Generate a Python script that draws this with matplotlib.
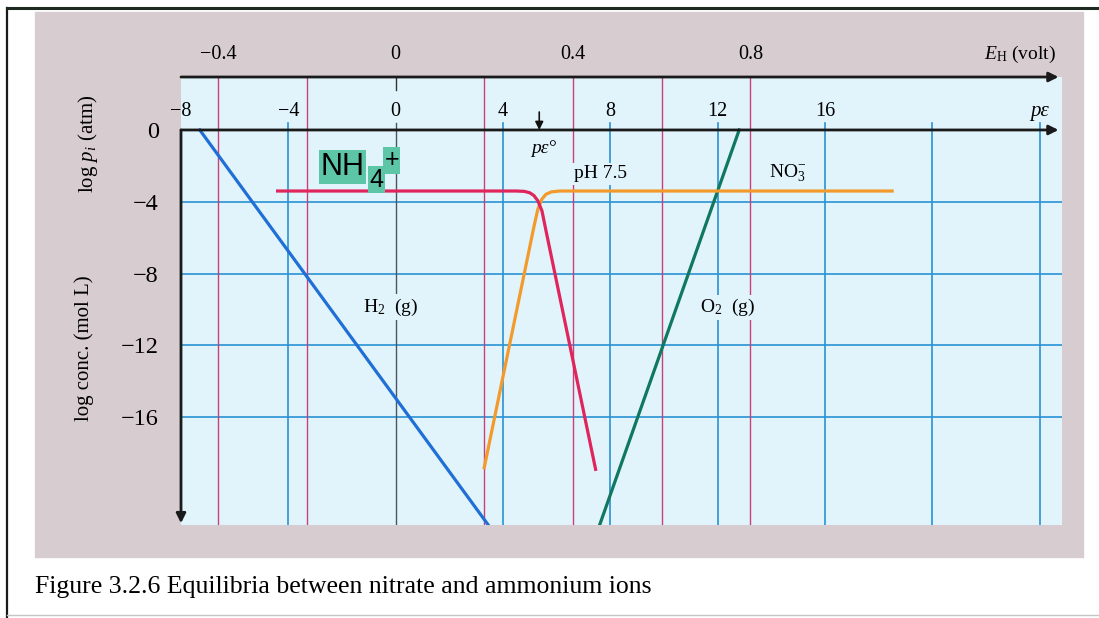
import numpy as np
import matplotlib.pyplot as plt
from matplotlib.patches import Rectangle
from matplotlib.lines import Line2D

plt.rcParams['font.family'] = 'Liberation Serif'
plt.rcParams['mathtext.fontset'] = 'custom'
plt.rcParams['mathtext.rm'] = 'Liberation Serif'
plt.rcParams['mathtext.it'] = 'Liberation Serif:italic'

# values (pe units, log units)
pe_ticks = [-8, -4, 0, 4, 8, 12, 16]
pe_grid = [-4, 4, 8, 12, 16, 20, 24]
eh_ticks = [-0.4, 0, 0.4, 0.8]
eh_grid = [-0.4, -0.2, 0.2, 0.4, 0.6, 0.8]
log_ticks = [0, -4, -8, -12, -16]
log_grid = [-4, -8, -12, -16]
volt_per_pe = 1 / 16.52

h2_pe = [-7.3, 3.45]
h2_log = [0, -22]
o2_pe = [7.6, 12.8]
o2_log = [-22, 0]
nh4_pe = [-4.4, 4.5, 4.8, 5.0, 5.15, 5.3, 5.45, 5.6, 7.45]
nh4_log = [-3.4, -3.4, -3.42, -3.5, -3.65, -3.95, -4.5, -5.6, -18.9]
no3_pe = [3.3, 5.15, 5.3, 5.45, 5.6, 5.8, 6.1, 18.5]
no3_log = [-18.8, -5.4, -4.4, -3.85, -3.58, -3.45, -3.4, -3.4]
pe_zero = 5.35

W, H = 1099, 618
fig = plt.figure(figsize=(W / 100, H / 100), dpi=100)
fig.patch.set_facecolor('white')

# scanned page background + frame
fig.add_artist(Rectangle((35 / W, 1 - 557 / H), (1083 - 35) / W, (557 - 12) / H,
                         transform=fig.transFigure, color='#d7cdd1', zorder=-5))
fig.add_artist(Line2D([7 / W, 7 / W], [0, 1 - 8 / H], color='#1a1a1a', lw=1.6))
fig.add_artist(Line2D([7 / W, 1], [1 - 8 / H, 1 - 8 / H], color='#1d2a1f', lw=2.2))
fig.add_artist(Line2D([7 / W, 1], [1 - 615 / H, 1 - 615 / H], color='#c4c4c4', lw=1.0))

ax = fig.add_axes([181 / W, 1 - 525 / H, (1062 - 181) / W, (525 - 77) / H])
ax.set_facecolor('#e1f4fb')
ax.set_xlim(-8, 24.83)
ax.set_ylim(-22.0, 2.95)
for s in ax.spines.values():
    s.set_visible(False)
ax.set_xticks([])
ax.set_yticks(log_ticks)
ax.set_yticklabels(['0' if v == 0 else '\u2212%d' % -v for v in log_ticks], fontsize=17.5)
ax.tick_params(axis='y', length=0, pad=16)

# grid lines
for v in log_grid:
    ax.axhline(v, color='#2a92d4', lw=1.2, zorder=1)
for p in pe_grid:
    ax.plot([p, p], [0.4, -22], color='#2a92d4', lw=1.2, zorder=1)
for e in eh_grid:
    p = e / volt_per_pe
    ax.plot([p, p], [2.95, -22], color='#c8407a', lw=1.0, zorder=1)
ax.plot([0, 0], [0.4, -22], color='#4a5560', lw=1.0, zorder=1)
ax.plot([0, 0], [2.95, 2.2], color='#333333', lw=1.0, zorder=1)

# curves
ax.plot(h2_pe, h2_log, color='#1f6fd6', lw=2.3, zorder=3)
ax.plot(o2_pe, o2_log, color='#10785f', lw=2.3, zorder=3)
ax.plot(no3_pe, no3_log, color='#f39a2c', lw=2.3, zorder=3)
ax.plot(nh4_pe, nh4_log, color='#e0245c', lw=2.3, zorder=3)

# axes with arrows
arr = dict(arrowstyle='-|>', color='#1a1a1a', lw=2.0, mutation_scale=14, shrinkA=0, shrinkB=0)
ax.annotate('', xy=(24.7, 0), xytext=(-8, 0), arrowprops=arr, annotation_clip=False, zorder=4)
ax.annotate('', xy=(24.7, 2.95), xytext=(-8, 2.95), arrowprops=arr, annotation_clip=False, zorder=4)
ax.annotate('', xy=(-8, -21.9), xytext=(-8, 0), arrowprops=arr, annotation_clip=False, zorder=4)
ax.annotate('', xy=(pe_zero, 0), xytext=(pe_zero, 1.0),
            arrowprops=dict(arrowstyle='-|>', color='#111111', lw=1.2, mutation_scale=12,
                            shrinkA=0, shrinkB=0), annotation_clip=False, zorder=4)

# tick labels
for p in pe_ticks:
    lab = '0' if p == 0 else ('\u2212%d' % -p if p < 0 else '%d' % p)
    ax.text(p, 1.05, lab, ha='center', va='center', fontsize=14.5, clip_on=False)
ax.text(24.0, 1.05, 'p\u03b5', ha='center', va='center', fontsize=15, style='italic', clip_on=False)
for e in eh_ticks:
    lab = '0' if e == 0 else ('\u2212%.1f' % -e if e < 0 else '%.1f' % e)
    ax.text(e / volt_per_pe, 4.2, lab, ha='center', va='center', fontsize=14.5, clip_on=False)
ax.text(24.6, 4.2, '$E_{\\mathrm{H}}$ (volt)', ha='right', va='center', fontsize=14, clip_on=False)

# labels inside the plot
bg = dict(facecolor='#e1f4fb', edgecolor='none', pad=1.5)
ax.text(-0.19, -9.87, 'H$_2$  (g)', ha='center', va='center', fontsize=14, bbox=bg, zorder=2)
ax.text(12.36, -9.9, 'O$_2$  (g)', ha='center', va='center', fontsize=14, bbox=bg, zorder=2)
ax.text(7.62, -2.45, 'pH 7.5', ha='center', va='center', fontsize=14, bbox=bg, zorder=2)
ax.text(14.6, -2.4, 'NO$_3^{-}$', ha='center', va='center', fontsize=14, bbox=bg, zorder=2)
ax.text(5.5, -1.05, 'p\u03b5\u00b0', ha='center', va='center', fontsize=14, style='italic', zorder=2)

teal = dict(facecolor='#5cc6a7', edgecolor='none', boxstyle='square,pad=0.06')
ax.text(-1.98, -2.06, 'NH', ha='center', va='center', fontsize=22, family='Liberation Sans',
        bbox=teal, zorder=5)
ax.text(-0.72, -2.78, '4', ha='center', va='center', fontsize=18, family='Liberation Sans',
        bbox=teal, zorder=5)
ax.text(-0.15, -1.7, '+', ha='center', va='center', fontsize=18, family='Liberation Sans',
        bbox=teal, zorder=5)

# axis titles and caption
fig.text(88 / W, 1 - 144 / H, 'log $p_i$ (atm)', rotation=90, ha='center', va='center', fontsize=15)
fig.text(84 / W, 1 - 348 / H, 'log conc. (mol L)', rotation=90, ha='center', va='center', fontsize=15)
fig.text(35 / W, 1 - 587 / H, 'Figure 3.2.6 Equilibria between nitrate and ammonium ions',
         ha='left', va='center', fontsize=18.5)

fig.savefig('out.png', dpi=100)
